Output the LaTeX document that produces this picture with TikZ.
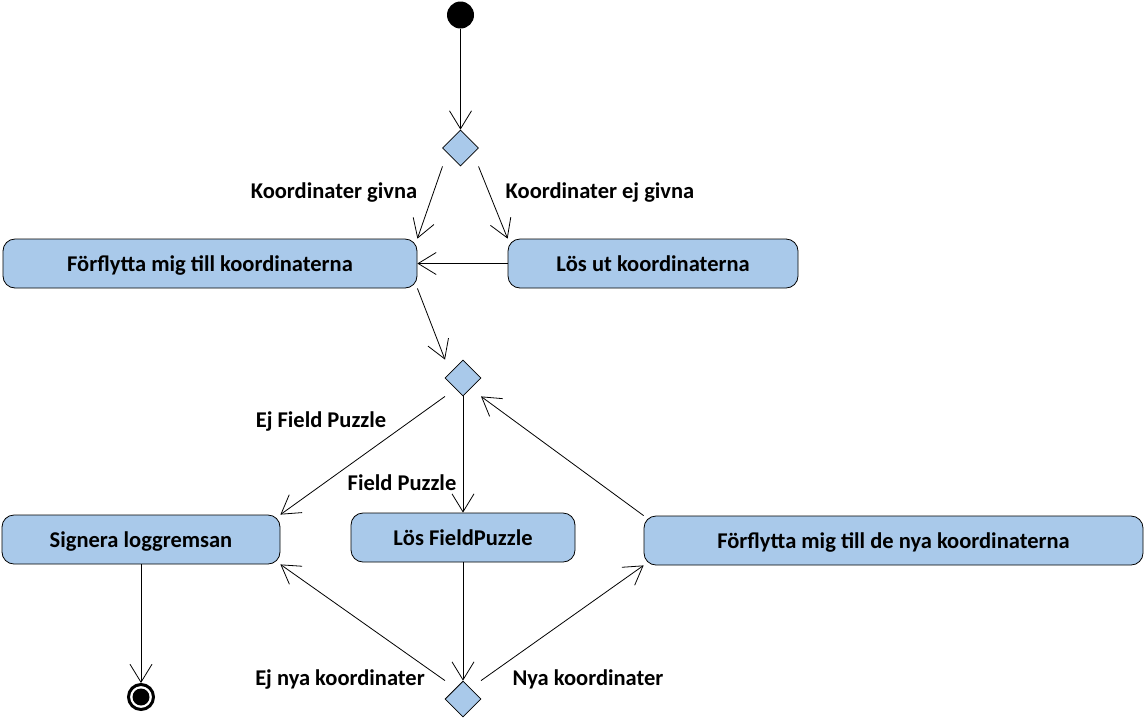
\documentclass[tikz,border=0pt]{standalone}
\usepackage{fontspec}
\setmainfont{Carlito}
\usetikzlibrary{shapes.geometric,arrows.meta,calc}
\definecolor{boxblue}{RGB}{169,201,234}
\begin{document}
\begin{tikzpicture}[x=1pt,y=-1pt,
  font=\fontsize{22.5}{24}\selectfont\bfseries,
  arr/.style={draw=black,line width=0.8pt,-{Straight Barb[length=18pt,width=22pt,line width=0.8pt]}},
  act/.style={draw=black,line width=0.8pt,fill=boxblue,rounded corners=12pt,minimum height=49pt,inner sep=0pt,text depth=0pt},
  dec/.style={diamond,draw=black,line width=0.8pt,fill=boxblue,minimum width=36pt,minimum height=36pt,inner sep=0pt},
  lbl/.style={inner sep=0pt,text depth=0pt}]
\useasboundingbox (0,0) rectangle (1147,721);
\node[circle,fill=black,minimum size=27pt,inner sep=0pt] (s) at (460.5,15) {};
\node[dec] (d1) at (460.5,148) {};
\node[act,minimum width=414pt] (b1) at (210,263.5) {Förflytta mig till koordinaterna};
\node[act,minimum width=290pt] (b2) at (653,263.5) {Lös ut koordinaterna};
\node[dec] (d2) at (463,378) {};
\node[act,minimum width=278pt] (b3) at (141,539.5) {Signera loggremsan};
\node[act,minimum width=224pt] (b4) at (463,537.5) {Lös FieldPuzzle};
\node[act,minimum width=499pt] (b5) at (893.5,540.5) {Förflytta mig till de nya koordinaterna};
\node[dec] (d3) at (463,699) {};
\node[circle,draw=black,line width=3pt,fill=white,minimum size=25pt,inner sep=0pt] (e) at (141,697) {};
\node[circle,fill=black,minimum size=17pt,inner sep=0pt] (ei) at (e.center) {};
\node[lbl] (l1) at (334,191) {Koordinater givna};
\node[lbl] (l2) at (600,191) {Koordinater ej givna};
\node[lbl] (l3) at (321,420) {Ej Field Puzzle};
\node[lbl] (l4) at (402,483) {Field Puzzle};
\node[lbl] (l5) at (340,678) {Ej nya koordinater};
\node[lbl] (l6) at (588,678) {Nya koordinater};
\draw[arr] (s) -- (d1.north);
\draw[arr] ($(d1.south)+(-18,0)$) -- (b1.north east);
\draw[arr] ($(d1.south)+(18,0)$) -- (b2.north west);
\draw[arr] (b2.west) -- (b1.east);
\draw[arr] (b1.south east) -- ($(d2.north)+(-18,0)$);
\draw[arr] ($(d2.south)+(-18,0)$) -- (b3.north east);
\draw[arr] (d2.south) -- (b4.north);
\draw[arr] (b5.north west) -- ($(d2.south)+(18,0)$);
\draw[arr] (b3.south) -- (e.north);
\draw[arr] (b4.south) -- (d3.north);
\draw[arr] ($(d3.north)+(-18,0)$) -- (b3.south east);
\draw[arr] ($(d3.north)+(18,0)$) -- (b5.south west);
\end{tikzpicture}
\end{document}
